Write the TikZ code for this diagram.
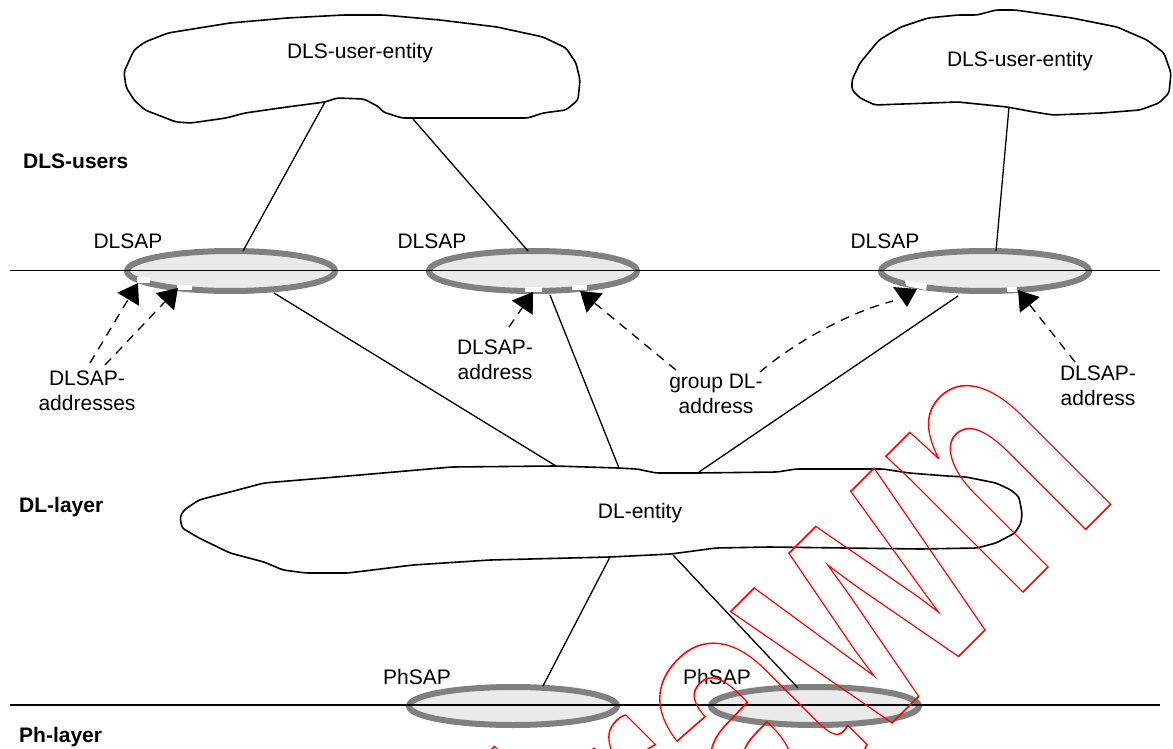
\documentclass[tikz,border=0pt]{standalone}
\usepackage{fontspec}
\setmainfont{Liberation Sans}
\usetikzlibrary{arrows.meta}
\definecolor{sapgray}{RGB}{128,128,128}
\definecolor{sapfill}{RGB}{234,234,234}
\begin{document}
\begin{tikzpicture}[x=1pt,y=-1pt,
  lbl/.style={inner sep=0pt, font=\fontsize{21}{25}\selectfont},
  lblb/.style={inner sep=0pt, font=\fontsize{21}{25}\selectfont\bfseries},
  twol/.style={lbl, align=center},
  cloudline/.style={draw=black, line width=1.6pt, fill=white, rounded corners=3pt},
  sap/.style={draw=sapgray, line width=6pt, fill=sapfill},
  conn/.style={draw=black, line width=1.3pt},
  layerline/.style={draw=black, line width=1.5pt},
  darr/.style={draw=black, line width=1.3pt, dash pattern=on 9pt off 7pt, -{Triangle[length=19pt,width=25pt]}},
  gapmark/.style={fill=white, draw=none},
]
\useasboundingbox (0,0) rectangle (1173,749);
\fill[white] (0,0) rectangle (1173,749);

% ---- clouds ----
\path[cloudline] (124,72) -- (134,50) -- (145,42) -- (168,33) -- (199,28) -- (230,23) -- (287,18) -- (344,15) -- (383,15) -- (440,20) -- (497,27) -- (543,37) -- (566,48) -- (576,63) -- (580,80) -- (578,100) -- (566,110) -- (543,113) -- (528,118) -- (402,118) -- (383,112) -- (379,107) -- (364,99) -- (337,98) -- (325,102) -- (287,107) -- (245,113) -- (226,118) -- (191,123) -- (176,122) -- (145,110) -- (134,100) -- (126,87) -- cycle;
\path[cloudline] (852,80) -- (860,63) -- (879,40) -- (901,27) -- (928,18) -- (958,15) -- (977,15) -- (996,10) -- (1015,10) -- (1072,18) -- (1117,27) -- (1147,40) -- (1164,53) -- (1171,73) -- (1169,93) -- (1159,103) -- (1140,110) -- (1102,113) -- (1053,115) -- (1034,112) -- (1007,107) -- (958,102) -- (875,105) -- (860,98) -- (852,90) -- cycle;
\path[cloudline] (180,517) -- (184,510) -- (199,500) -- (214,496) -- (230,492) -- (264,483) -- (360,475) -- (452,467) -- (555,466) -- (618,468) -- (637,469) -- (656,473) -- (697,473) -- (777,472) -- (796,469) -- (883,469) -- (909,473) -- (947,476) -- (966,477) -- (996,483) -- (1011,490) -- (1019,497) -- (1022,513) -- (1021,523) -- (1015,533) -- (996,543) -- (977,548) -- (920,549) -- (845,548) -- (769,547) -- (716,548) -- (671,554) -- (610,557) -- (490,560) -- (413,565) -- (348,573) -- (306,573) -- (283,570) -- (264,562) -- (230,553) -- (199,538) -- (182,528) -- cycle;

\node[lbl, anchor=base] (u1) at (360,59) {DLS-user-entity};
\node[lbl, anchor=base] (u2) at (1020,67) {DLS-user-entity};
\node[lbl, anchor=base] (dle) at (640,518) {DL-entity};

% ---- service access points ----
\path[sap] (231,271) ellipse [x radius=104, y radius=20];
\path[sap] (533,271) ellipse [x radius=104, y radius=20];
\path[sap] (985,271) ellipse [x radius=104, y radius=20];
\path[sap] (513,706) ellipse [x radius=104, y radius=19];
\path[sap] (815,706) ellipse [x radius=104, y radius=19];

% small white gaps on the rings
\fill[gapmark] (137,277) rectangle (150,283);
\fill[gapmark] (177,285) rectangle (192,290);
\fill[gapmark] (525,287) rectangle (542,292);
\fill[gapmark] (572,285) rectangle (587,290);
\fill[gapmark] (905,280) -- (927,284) -- (926,290) -- (906,286) -- cycle;
\fill[gapmark] (1007,287) rectangle (1017,292);

% ---- layer lines ----
\coordinate (t0) at (10,270.5); \coordinate (t1) at (1160,270.5);
\coordinate (p0) at (10,705); \coordinate (p1) at (1160,705);
\draw[layerline] (t0) -- (t1);
\draw[layerline] (p0) -- (p1);

% ---- connector end points ----
\coordinate (c1a) at (325,102); \coordinate (s1t) at (243,251);
\coordinate (c1b) at (413,119); \coordinate (s2t) at (528,251);
\coordinate (c2a) at (1009,107); \coordinate (s3t) at (996,251);
\coordinate (s1b) at (274,293); \coordinate (d1) at (556,466);
\coordinate (s2b) at (550,295); \coordinate (d2) at (619,468);
\coordinate (s3b) at (958,296); \coordinate (d3) at (699,472);
\coordinate (d4) at (610,557); \coordinate (ph1) at (543,686);
\coordinate (d5) at (673,555); \coordinate (ph2) at (798,688);

\draw[conn] (c1a) -- (s1t);
\draw[conn] (c1b) -- (s2t);
\draw[conn] (c2a) -- (s3t);
\draw[conn] (s1b) -- (d1);
\draw[conn] (s2b) -- (d2);
\draw[conn] (s3b) -- (d3);
\draw[conn] (d4) -- (ph1);
\draw[conn] (d5) -- (ph2);

% ---- labels ----
\node[lblb, anchor=base west] (lu) at (23,168) {DLS-users};
\node[lblb, anchor=base west] (ldl) at (19,512) {DL-layer};
\node[lblb, anchor=base west] (lph) at (19,742) {Ph-layer};
\node[lbl, anchor=base] (n1) at (128,248) {DLSAP};
\node[lbl, anchor=base] (n2) at (432,248) {DLSAP};
\node[lbl, anchor=base] (n3) at (885,248) {DLSAP};
\node[lbl, anchor=base] (q1) at (417,684) {PhSAP};
\node[lbl, anchor=base] (q2) at (717,684) {PhSAP};

\node[twol] (a1) at (87,391) {DLSAP-\\addresses};
\node[twol] (a2) at (495,360) {DLSAP-\\address};
\node[twol] (a3) at (716,394) {group DL-\\address};
\node[twol] (a4) at (1098,386) {DLSAP-\\address};

% ---- dashed arrows ----
\coordinate (e1s) at (90,363); \coordinate (e1t) at (138,283);
\coordinate (e2s) at (105,365); \coordinate (e2t) at (178,288);
\coordinate (e3s) at (509,327); \coordinate (e3t) at (533,292);
\coordinate (e4s) at (676,370); \coordinate (e4t) at (580,291);
\coordinate (e5s) at (760,372); \coordinate (e5t) at (893,301);
\coordinate (e6s) at (1075,362); \coordinate (e6t) at (1018,290);
\draw[darr] (e1s) -- (e1t);
\draw[darr] (e2s) -- (e2t);
\draw[darr] (e3s) -- (e3t);
\draw[darr] (e4s) -- (e4t);
\draw[darr] (e6s) -- (e6t);
\draw[conn, dash pattern=on 9pt off 7pt] (e5s) .. controls (795,342) and (850,312) .. (e5t);
\coordinate (h1) at (893,287); \coordinate (h2) at (917,289); \coordinate (h3) at (907,307);
\fill[black] (h1) -- (h2) -- (h3) -- cycle;

% ---- watermark ----
\begin{scope}
\clip (0,0) rectangle (1173,749);
\node[rotate=45, anchor=base east, inner sep=0pt, text=red] (wm) at (1122,493)
  {\scalebox{0.71}[1]{\fontsize{365}{365}\selectfont\bfseries\special{pdf:literal direct 1 Tr 1.6 w}Withdrawn\special{pdf:literal direct 0 Tr}}};
\end{scope}
\end{tikzpicture}
\end{document}
